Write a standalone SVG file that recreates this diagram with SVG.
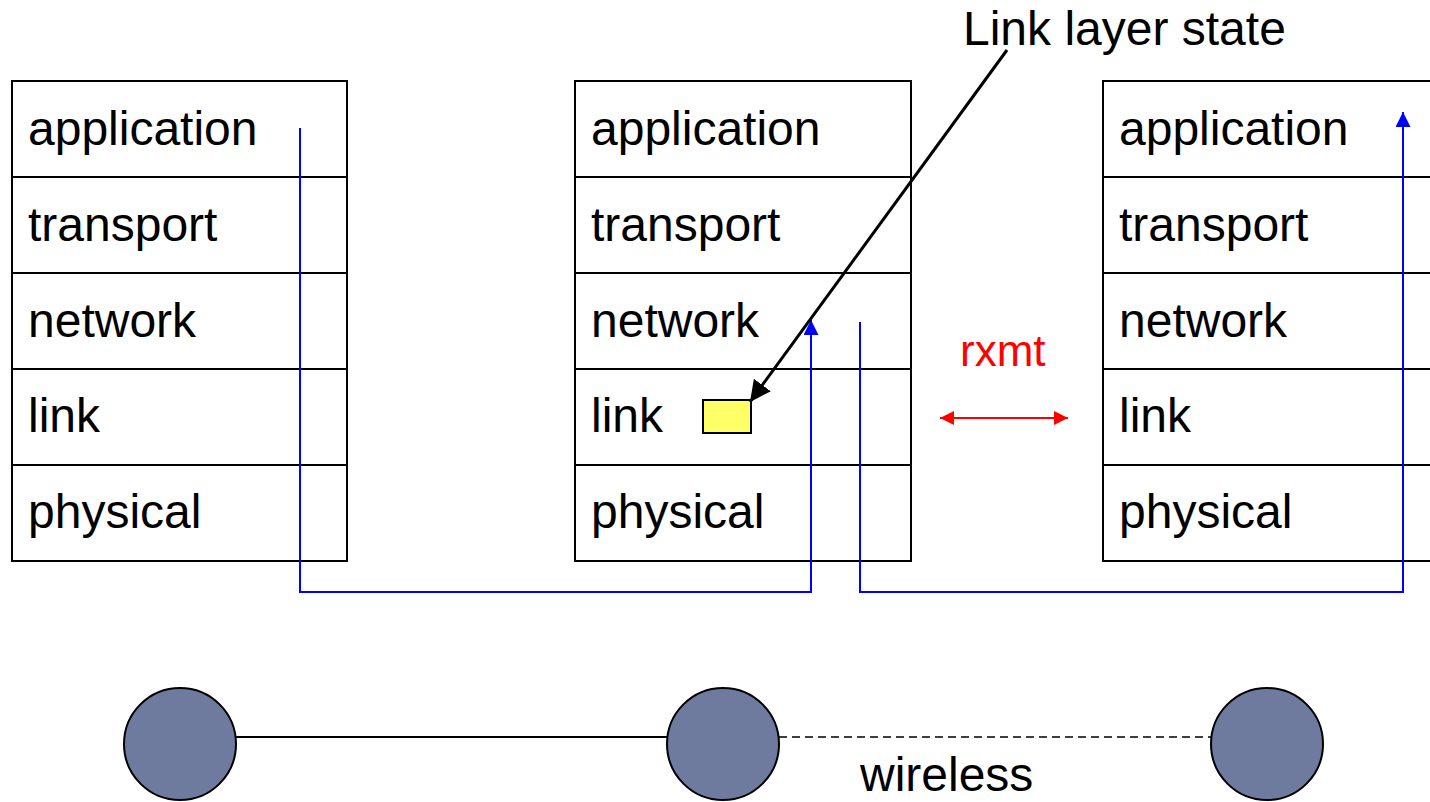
<svg xmlns="http://www.w3.org/2000/svg" width="1430" height="802" viewBox="0 0 1430 802">
<style>
.cell{fill:#fff;stroke:#000;stroke-width:2}
.lbl{font-family:"Liberation Sans",Arial,sans-serif;font-size:48px;fill:#000}
.blue{fill:none;stroke:#0000ff;stroke-width:2}
.node{fill:#6f7a9f;stroke:#000;stroke-width:2}
</style>
<defs>
<marker id="ab" viewBox="0 0 10 10" refX="10" refY="5" markerWidth="16" markerHeight="15" markerUnits="userSpaceOnUse" orient="auto"><path d="M0,0 L10,5 L0,10 z" fill="#0000ff"/></marker>
<marker id="ak" viewBox="0 0 10 10" refX="10" refY="5" markerWidth="7" markerHeight="7" orient="auto"><path d="M0,0 L10,5 L0,10 z" fill="#000"/></marker>
<marker id="ar" viewBox="0 0 10 10" refX="10" refY="5" markerWidth="7" markerHeight="7" orient="auto-start-reverse"><path d="M0,0 L10,5 L0,10 z" fill="#ff0000"/></marker>
</defs>
<g id="stack1">
<rect class="cell" x="12" y="81" width="335" height="96"/>
<rect class="cell" x="12" y="177" width="335" height="96"/>
<rect class="cell" x="12" y="273" width="335" height="96"/>
<rect class="cell" x="12" y="369" width="335" height="96"/>
<rect class="cell" x="12" y="465" width="335" height="96"/>
<text class="lbl" x="28" y="145">application</text>
<text class="lbl" x="28" y="241">transport</text>
<text class="lbl" x="28" y="337">network</text>
<text class="lbl" x="28" y="432">link</text>
<text class="lbl" x="28" y="528">physical</text>
</g>
<g id="stack2">
<rect class="cell" x="575" y="81" width="336" height="96"/>
<rect class="cell" x="575" y="177" width="336" height="96"/>
<rect class="cell" x="575" y="273" width="336" height="96"/>
<rect class="cell" x="575" y="369" width="336" height="96"/>
<rect class="cell" x="575" y="465" width="336" height="96"/>
<text class="lbl" x="591" y="145">application</text>
<text class="lbl" x="591" y="241">transport</text>
<text class="lbl" x="591" y="337">network</text>
<text class="lbl" x="591" y="432">link</text>
<text class="lbl" x="591" y="528">physical</text>
</g>
<g id="stack3">
<rect class="cell" x="1103" y="81" width="336" height="96"/>
<rect class="cell" x="1103" y="177" width="336" height="96"/>
<rect class="cell" x="1103" y="273" width="336" height="96"/>
<rect class="cell" x="1103" y="369" width="336" height="96"/>
<rect class="cell" x="1103" y="465" width="336" height="96"/>
<text class="lbl" x="1119" y="145">application</text>
<text class="lbl" x="1119" y="241">transport</text>
<text class="lbl" x="1119" y="337">network</text>
<text class="lbl" x="1119" y="432">link</text>
<text class="lbl" x="1119" y="528">physical</text>
</g>
<g id="state">
<rect x="703" y="400" width="48" height="33" fill="#ffff66" stroke="#000" stroke-width="2"/>
<text class="lbl" x="963" y="45" font-size="45">Link layer state</text>
</g>
<g id="rxmt">
<text x="960" y="366" font-family="Liberation Sans,Arial,sans-serif" font-size="44" fill="#ff0000">rxmt</text>
</g>
<g id="nodes">
<circle id="n1" class="node" cx="180" cy="744" r="56"/>
<circle id="n2" class="node" cx="723" cy="744" r="56"/>
<circle id="n3" class="node" cx="1267" cy="744" r="56"/>
<text class="lbl" x="860" y="791" font-size="44">wireless</text>
</g>
<g id="connectors">
<path class="blue" d="M300,128 V592 H811 V320" marker-end="url(#ab)"/>
<path class="blue" d="M860,322 V592 H1403 V112" marker-end="url(#ab)"/>
<line x1="1007" y1="50" x2="750" y2="402" stroke="#000" stroke-width="3" marker-end="url(#ak)"/>
<line x1="940" y1="418" x2="1068" y2="418" stroke="#ff0000" stroke-width="2" marker-start="url(#ar)" marker-end="url(#ar)"/>
<line x1="236" y1="737" x2="667" y2="737" stroke="#000" stroke-width="2"/>
<line x1="779" y1="737" x2="1211" y2="737" stroke="#000" stroke-width="1.5" stroke-dasharray="8,5"/>
</g>
</svg>
